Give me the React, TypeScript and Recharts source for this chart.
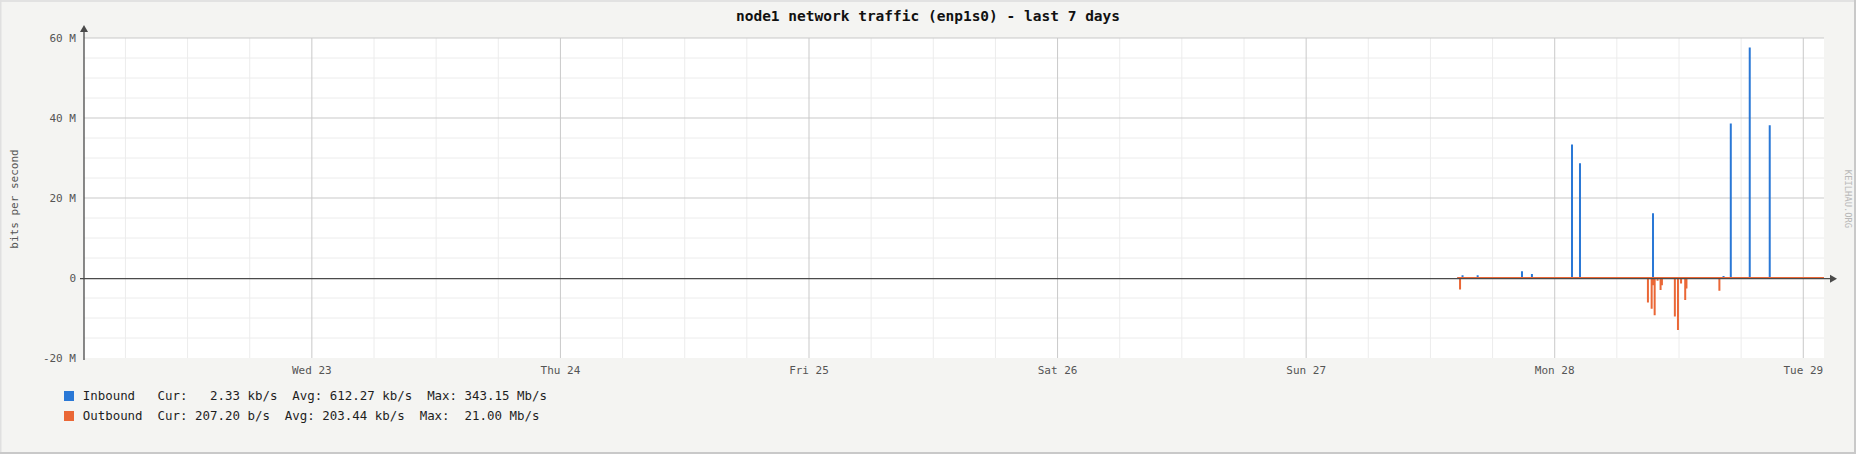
import React from 'react';
import { ComposedChart, Line, XAxis, YAxis, CartesianGrid, ReferenceLine } from 'recharts';

// ---- data (hours since Tue 22 02:00; values in Mb/s) ----
const dayTickHours = [22, 46, 70, 94, 118, 142, 166];
const dayTickLabels = ['Wed 23', 'Thu 24', 'Fri 25', 'Sat 26', 'Sun 27', 'Mon 28', 'Tue 29'];
const yTickValues = [-20, 0, 20, 40, 60];
const yTickLabels = ['-20 M', '0', '20 M', '40 M', '60 M'];

const dataStartHour = 132.6;
const dataEndHour = 168;

const inboundHours = [133.1, 134.56, 138.84, 139.8, 143.67, 144.44, 151.49, 158.3, 159.0, 160.83, 162.76];
const inboundMbps = [0.7, 0.7, 1.7, 1.0, 33.4, 28.7, 16.2, 0.5, 38.6, 57.6, 38.2];

const outboundHours = [132.86, 151.0, 151.36, 151.55, 151.65, 151.93, 152.22, 152.35, 153.6, 153.9, 154.2, 154.6, 154.72, 157.9];
const outboundMbps = [2.9, 6.1, 7.7, 1.8, 9.3, 0.7, 3.0, 1.8, 9.6, 13.0, 1.4, 5.5, 2.6, 3.2];

const legendNames = ['Inbound', 'Outbound'];
const legendCur = ['  2.33 kb/s', '207.20 b/s'];
const legendAvg = ['612.27 kb/s', '203.44 kb/s'];
const legendMax = ['343.15 Mb/s', ' 21.00 Mb/s'];

const titleText = 'node1 network traffic (enp1s0) - last 7 days';
const yAxisTitle = 'bits per second';
const watermark = 'KEILHAU.ORG';

// ---- styles ----
const W = 1856;
const H = 454;
const MONO = '"DejaVu Sans Mono", "Liberation Mono", monospace';
const BLUE = '#2a78d6';
const ORANGE = '#ea6736';
const BG = '#f4f4f2';
const MAJOR = '#c9c9c9';
const MINOR = '#ececec';
const AXIS = '#4a4a4a';
const seriesColors = [BLUE, ORANGE];

const minorX: number[] = [];
for (let h = 4; h < 168; h += 6) if (!dayTickHours.includes(h)) minorX.push(h);
const minorY = [-15, -10, -5, 5, 10, 15, 25, 30, 35, 45, 50, 55];
const majorY = [20, 40, 60];

function buildSeries(hours: number[], vals: number[], sign: number) {
  const pts: { h: number; v: number }[] = [{ h: dataStartHour, v: 0 }];
  hours.forEach((h, i) => {
    pts.push({ h, v: 0 });
    pts.push({ h, v: sign * vals[i] });
    pts.push({ h, v: 0 });
  });
  pts.push({ h: dataEndHour, v: 0 });
  return pts;
}

const inboundData = buildSeries(inboundHours, inboundMbps, 1);
const outboundData = buildSeries(outboundHours, outboundMbps, -1);

const XAxisArrow = (p: any) => {
  const y = p.y1 + 0.7;
  const xs = Math.min(p.x1, p.x2);
  const xe = Math.max(p.x1, p.x2);
  return (
    <g>
      <line x1={xs - 4} y1={y} x2={xe + 6} y2={y} stroke={AXIS} strokeWidth={1.3} />
      <path d={`M${xe + 6},${y - 4} L${xe + 13},${y} L${xe + 6},${y + 4} Z`} fill={AXIS} />
    </g>
  );
};

const YAxisArrow = (p: any) => {
  const x = p.x1;
  const top = Math.min(p.y1, p.y2);
  const bot = Math.max(p.y1, p.y2);
  return (
    <g>
      <line x1={x} y1={bot + 2} x2={x} y2={top - 6} stroke={AXIS} strokeWidth={1.3} />
      <path d={`M${x - 4},${top - 6} L${x},${top - 13} L${x + 4},${top - 6} Z`} fill={AXIS} />
    </g>
  );
};

export default function App() {
  return (
    <div style={{ position: 'relative', width: W, height: H, background: BG, overflow: 'hidden' }}>
      <style>{`body{margin:0;}`}</style>
      <ComposedChart width={W} height={H} margin={{ top: 38, right: 32, bottom: 66, left: 24 }}>
        <CartesianGrid fill="#ffffff" stroke="none" horizontal={false} vertical={false} />
        {minorX.map((h) => (
          <ReferenceLine key={`mx${h}`} x={h} stroke={MINOR} strokeWidth={1} zIndex={-90} />
        ))}
        {minorY.map((v) => (
          <ReferenceLine key={`my${v}`} y={v} stroke={MINOR} strokeWidth={1} zIndex={-90} />
        ))}
        {dayTickHours.map((h) => (
          <ReferenceLine key={`Mx${h}`} x={h} stroke={MAJOR} strokeWidth={1} zIndex={-80} />
        ))}
        {majorY.map((v) => (
          <ReferenceLine key={`My${v}`} y={v} stroke={MAJOR} strokeWidth={1} zIndex={-80} />
        ))}
        <XAxis
          dataKey="h"
          type="number"
          domain={[0, 168]}
          ticks={dayTickHours}
          tickFormatter={(v: number) => dayTickLabels[dayTickHours.indexOf(v)] ?? ''}
          axisLine={false}
          tickLine={false}
          tickSize={0}
          tickMargin={8}
          height={30}
          interval={0}
          allowDataOverflow
          tick={{ fill: '#555555', fontSize: 11, fontFamily: MONO }}
        />
        <YAxis
          type="number"
          domain={[-20, 60]}
          ticks={yTickValues}
          tickFormatter={(v: number) => yTickLabels[yTickValues.indexOf(v)] ?? ''}
          axisLine={false}
          tickLine={false}
          tickSize={0}
          tickMargin={8}
          width={60}
          interval={0}
          allowDataOverflow
          tick={{ fill: '#555555', fontSize: 11, fontFamily: MONO }}
        />
        <ReferenceLine x={0} stroke={AXIS} shape={YAxisArrow} />
        <Line
          data={inboundData}
          dataKey="v"
          type="linear"
          stroke={BLUE}
          strokeWidth={2}
          dot={false}
          activeDot={false}
          isAnimationActive={false}
          strokeLinecap="butt"
          strokeLinejoin="bevel"
        />
        <Line
          data={outboundData}
          dataKey="v"
          type="linear"
          stroke={ORANGE}
          strokeWidth={2}
          dot={false}
          activeDot={false}
          isAnimationActive={false}
          strokeLinecap="butt"
          strokeLinejoin="bevel"
        />
        <ReferenceLine y={0} stroke={AXIS} shape={XAxisArrow} zIndex={1500} />
      </ComposedChart>

      <svg
        width={W}
        height={H}
        style={{ position: 'absolute', left: 0, top: 0, pointerEvents: 'none' }}
      >
        <rect x={0} y={0} width={W} height={2} fill="#e2e2e2" />
        <rect x={0} y={0} width={1.5} height={H} fill="#e0e0e0" />
        <rect x={W - 2} y={0} width={2} height={H} fill="#c9c9c9" />
        <rect x={0} y={H - 2} width={W} height={2} fill="#c9c9c9" />
        <text
          x={928}
          y={16}
          textAnchor="middle"
          dominantBaseline="central"
          fontFamily={MONO}
          fontWeight="bold"
          fontSize={14.5}
          fill="#111111"
        >
          {titleText}
        </text>
        <text
          x={14}
          y={199}
          transform="rotate(-90 14 199)"
          textAnchor="middle"
          dominantBaseline="central"
          fontFamily={MONO}
          fontSize={11}
          fill="#555555"
        >
          {yAxisTitle}
        </text>
        <text
          x={1847.5}
          y={199}
          transform="rotate(90 1847.5 199)"
          textAnchor="middle"
          dominantBaseline="central"
          fontFamily={MONO}
          fontSize={8.8}
          fill="#b8b8b8"
        >
          {watermark}
        </text>
      </svg>

      {legendNames.map((name, i) => (
        <div key={name}>
          <div
            style={{
              position: 'absolute',
              left: 64,
              top: 391 + i * 20,
              width: 10,
              height: 10,
              background: seriesColors[i],
            }}
          />
          <div
            style={{
              position: 'absolute',
              left: 82.7,
              top: 388 + i * 19.6,
              fontFamily: MONO,
              fontSize: 12.45,
              lineHeight: '16px',
              whiteSpace: 'pre',
              color: '#1e1e1e',
            }}
          >
            {`${name.padEnd(10)}Cur: ${legendCur[i]}  Avg: ${legendAvg[i]}  Max: ${legendMax[i]}`}
          </div>
        </div>
      ))}
    </div>
  );
}
